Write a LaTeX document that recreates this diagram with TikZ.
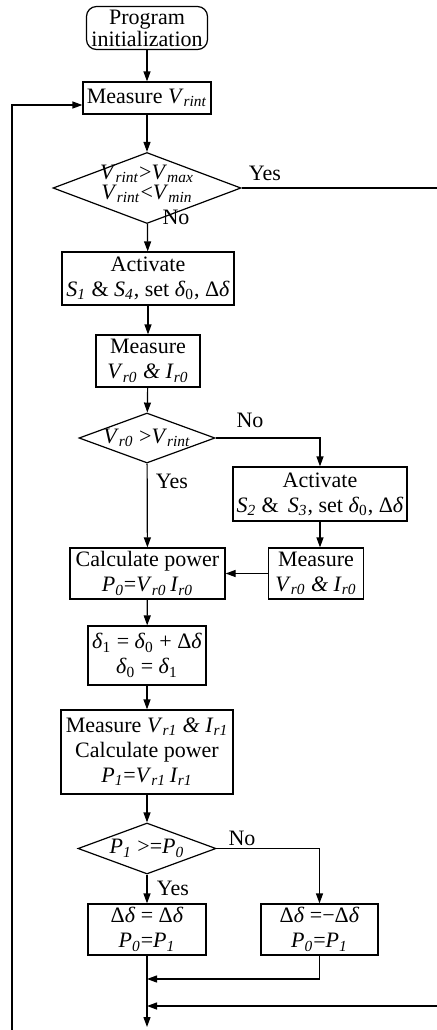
\documentclass[tikz,border=0pt]{standalone}
\usepackage{fontspec}
\setmainfont{Liberation Serif}
\usetikzlibrary{arrows.meta,shapes.geometric}
\newcommand\myV[1]{\textit{V}\textsubscript{\textit{#1}}}
\newcommand\myI[1]{\textit{I}\textsubscript{\textit{#1}}}
\newcommand\myS[1]{\textit{S}\textsubscript{\textit{#1}}}
\newcommand\myP[1]{\textit{P}\textsubscript{\textit{#1}}}
\newcommand\myd{\textit{δ}}
\newcommand\myD{Δ\textit{δ}}
\begin{document}
\begin{tikzpicture}[x=0.5pt,y=-0.5pt,
  every node/.style={font=\fontsize{11}{12.5}\selectfont},
  box/.style={draw,line width=0.6pt,inner sep=0pt,align=center},
  dia/.style={draw,line width=0.6pt,diamond,inner sep=0pt},
  lbl/.style={inner sep=0pt},
  conn/.style={line width=0.6pt,-{Triangle[length=5pt,width=3.5pt]}},
  plain/.style={line width=0.6pt}]
\useasboundingbox (0,0) rectangle (437,1030);
% nodes
\node[box,rounded corners=5pt,minimum width=60.5pt,minimum height=21.5pt,font=\fontsize{11}{9.2}\selectfont] (start) at (147,28) {Program\\initialization};
\node[box,minimum width=64pt,minimum height=16pt] (m1) at (147,98) {Measure \myV{rint}};
\node[dia,minimum width=94pt,minimum height=35.5pt] (d1) at (147,188) {};
\node[lbl,align=center,font=\fontsize{11}{10}\selectfont] at ([yshift=2pt]d1.center) {\myV{rint}>\myV{max}\\\myV{rint}<\myV{min}};
\node[box,minimum width=86pt,minimum height=26.5pt] (act1) at (148,278.5) {Activate\\\myS{1} \& \myS{4}, set \myd\textsubscript{0}, \myD};
\node[box,minimum width=52pt,minimum height=26pt] (m2) at (148,361) {Measure\\\myV{r0} \textit{\&} \myI{r0}};
\node[dia,minimum width=68pt,minimum height=25pt] (d2) at (147,438) {};
\node[lbl] at (d2) {\myV{r0} >\myV{rint}};
\node[box,minimum width=87pt,minimum height=27pt] (act2) at (320,494) {Activate\\\myS{2} \&\, \myS{3}, set \myd\textsubscript{0}, \myD};
\node[box,minimum width=47.5pt,minimum height=25.5pt] (m3) at (316,573.5) {Measure\\\myV{r0} \textit{\&} \myI{r0}};
\node[box,minimum width=77.5pt,minimum height=25.5pt] (calc) at (147.5,573.5) {Calculate power\\\myP{0}=\myV{r0}\,\myI{r0}};
\node[box,minimum width=59pt,minimum height=29.5pt] (delta) at (147,655.5) {\myd\textsubscript{1} = \myd\textsubscript{0} + \myD\\\myd\textsubscript{0} = \myd\textsubscript{1}};
\node[box,minimum width=86pt,minimum height=42pt] (m4) at (147,752) {Measure \myV{r1} \textit{\&} \myI{r1}\\Calculate power\\\myP{1}=\myV{r1}\,\myI{r1}};
\node[dia,minimum width=69pt,minimum height=25.5pt] (d3) at (147,848.5) {};
\node[lbl] at (d3) {\myP{1} >=\myP{0}};
\node[box,minimum width=59pt,minimum height=25.5pt] (yb) at (147,929.5) {\myD{} = \myD\\\myP{0}=\myP{1}};
\node[box,minimum width=58.5pt,minimum height=25.5pt] (nb) at (319.5,929.5) {\myD{} =−\myD\\\myP{0}=\myP{1}};
% labels
\node[lbl] at (265,173) {Yes};
\node[lbl] at (176,217) {No};
\node[lbl] at (250,420) {No};
\node[lbl] at (172,481) {Yes};
\node[lbl] at (242,838) {No};
\node[lbl] at (173,888) {Yes};
% free ends
\coordinate (yesR) at (437,188);
\coordinate (retR) at (437,1006);
\coordinate (bot) at (147,1027);
\coordinate (loopB) at (12,1030);
\coordinate (join1) at (147,979);
\coordinate (join2) at (147,1006);
% connectors
\draw[conn] (start) -- (m1);
\draw[conn] (m1) -- (d1);
\draw[plain] (d1.east) -- (yesR);
\draw[conn] (d1) -- (act1);
\draw[conn] (act1) -- (m2);
\draw[conn] (m2) -- (d2);
\draw[conn] (d2.east) -| (act2.north);
\draw[conn] (d2) -- (calc);
\draw[conn] (act2.south) -- (act2.south |- m3.north);
\draw[conn] (m3.west) -- (calc.east);
\draw[conn] (calc) -- (delta);
\draw[conn] (delta) -- (m4);
\draw[conn] (m4) -- (d3);
\draw[conn] (d3.east) -| (nb.north);
\draw[conn] (d3) -- (yb);
\draw[conn] (yb.south) -- (bot);
\draw[conn] (nb.south) |- (join1);
\draw[conn] (retR) -- (join2);
\draw[conn] (loopB) |- ([yshift=-3.5pt]m1.west);
\end{tikzpicture}
\end{document}
